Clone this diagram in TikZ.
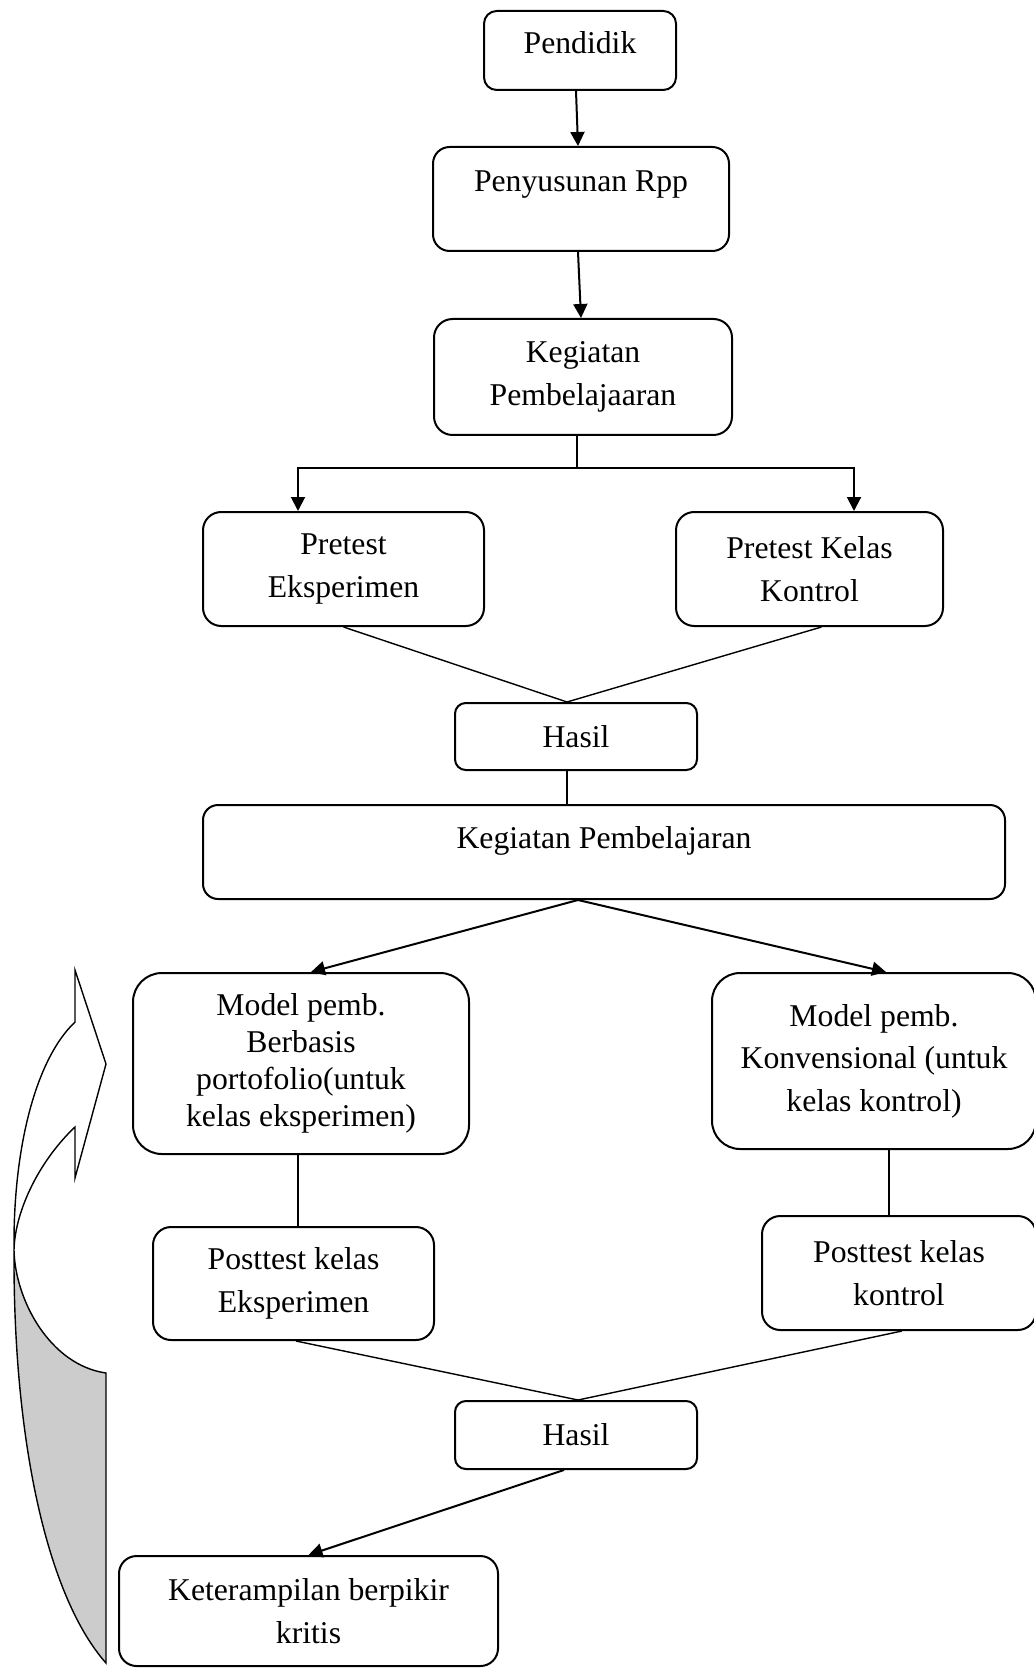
\documentclass[tikz,border=0pt]{standalone}
\usepackage{fontspec}
\setmainfont{Liberation Serif}
\usetikzlibrary{arrows.meta}

\begin{document}
\begin{tikzpicture}[x=0.5pt,y=-0.5pt,font=\fontsize{15.85pt}{21.25pt}\selectfont,
kotak/.style n args={2}{draw,line width=1pt,rounded corners=#2*0.08pt,align=center,inner sep=0pt,minimum width=#1*0.5pt,minimum height=#2*0.5pt},
panah/.style={-{Triangle[length=7pt,width=7pt]},line width=1pt},
garis/.style={line width=0.7pt}]
\useasboundingbox (0,0) rectangle (1033,1668);
\node[kotak={192}{79},text depth=8pt] (pend) at (580,50.5) {Pendidik};
\node[kotak={296}{104},text depth=18pt] (rpp) at (581,199) {Penyusunan Rpp};
\node[kotak={298}{116}] (keg1) at (583,377) {Kegiatan\\Pembelajaaran};
\node[kotak={281}{114}] (preE) at (343.5,569) {Pretest\\Eksperimen};
\node[kotak={267}{114}] (preK) at (809.5,569) {Pretest Kelas\\Kontrol};
\node[kotak={242}{67}] (has1) at (576,736.5) {Hasil};
\node[kotak={802}{94},text depth=15pt] (keg2) at (604,852) {Kegiatan Pembelajaran};
\node[kotak={336}{181},font=\fontsize{15.85pt}{18.5pt}\selectfont] (modE) at (301,1063.5) {Model pemb.\\Berbasis\\portofolio(untuk\\kelas eksperimen)};
\node[kotak={324}{176}] (modK) at (874,1061) {Model pemb.\\Konvensional (untuk\\kelas kontrol)};
\node[kotak={281}{113}] (postE) at (293.5,1283.5) {Posttest kelas\\Eksperimen};
\node[kotak={274}{114}] (postK) at (899,1273) {Posttest kelas\\kontrol};
\node[kotak={242}{68}] (has2) at (576,1435) {Hasil};
\node[kotak={379}{110}] (ket) at (308.5,1611) {Keterampilan berpikir\\kritis};
% alur atas
\draw[panah] ([xshift=-2pt]pend.south) -- ([xshift=-1.5pt]rpp.north);
\draw[panah] ([xshift=-1.5pt]rpp.south) -- ([xshift=-1pt]keg1.north);
\coordinate (cabang) at (577,468);
\draw[garis] ([xshift=-3pt]keg1.south) -- (cabang);
\draw[panah] (cabang) -| ([xshift=-22.75pt]preE.north);
\draw[panah] (cabang) -| ([xshift=22.25pt]preK.north);
\draw[garis] (preE.south) -- ([xshift=-4.5pt]has1.north);
\draw[garis] ([xshift=6pt]preK.south) -- ([xshift=-4.5pt]has1.north);
\draw[garis] ([xshift=-4.5pt]has1.south) -- ([xshift=-18.5pt]keg2.north);
% alur bawah
\draw[panah] ([xshift=-13pt]keg2.south) -- ([xshift=5pt]modE.north);
\draw[panah] ([xshift=-13pt]keg2.south) -- ([xshift=6pt]modK.north);
\draw[garis] ([xshift=-1.5pt]modE.south) -- ([xshift=2.25pt]postE.north);
\draw[garis] ([xshift=7.5pt]modK.south) -- ([xshift=-5pt]postK.north);
\draw[garis] ([xshift=1.25pt]postE.south) -- ([xshift=1pt]has2.north);
\draw[garis] ([xshift=1.5pt]postK.south) -- ([xshift=1pt]has2.north);
\draw[panah] ([xshift=-6pt]has2.south) -- (ket.north);
% panah lengkung
\draw[garis,fill=gray!40] (14,1250) .. controls (15,1300) and (50,1365) .. (106,1373) -- (106,1663) .. controls (50,1600) and (13,1450) .. (14,1250) -- cycle;
\draw[garis] (14,1250) .. controls (13,1150) and (35,1060) .. (75,1022) -- (75,970) -- (106,1064) -- (75,1178) -- (75,1127) .. controls (40,1160) and (15,1210) .. (14,1250);
\end{tikzpicture}
\end{document}
